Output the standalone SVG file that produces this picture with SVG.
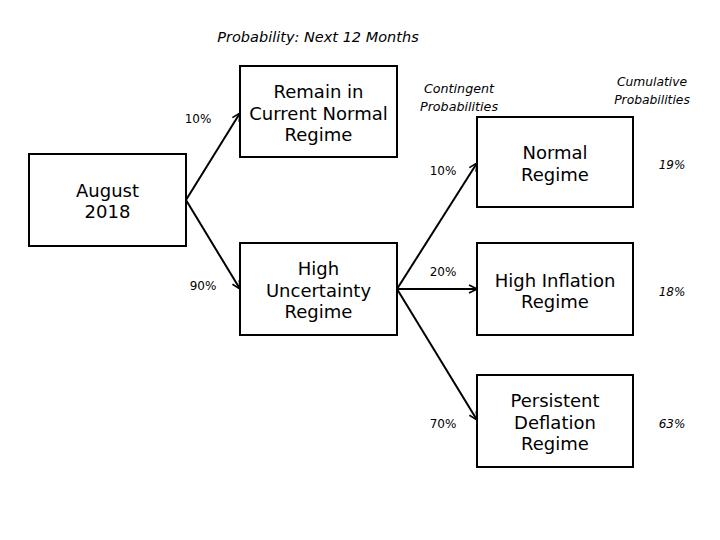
<svg xmlns="http://www.w3.org/2000/svg" width="720" height="540" viewBox="0 0 720 540">
<style>
.box{fill:#fff;stroke:#000;stroke-width:2}
.t{font-family:"DejaVu Sans",Verdana,sans-serif;font-size:18px;text-anchor:middle;fill:#000}
.p{font-family:"DejaVu Sans",Verdana,sans-serif;font-size:12px;text-anchor:middle;fill:#000}
.i{font-family:"DejaVu Sans",Verdana,sans-serif;font-style:italic;text-anchor:middle;fill:#000}
.c{stroke:#000;stroke-width:2;fill:none;marker-end:url(#ah)}
</style>
<defs>
<marker id="ah" viewBox="0 0 10 10" refX="9" refY="5" markerWidth="5" markerHeight="5" markerUnits="strokeWidth" orient="auto">
<path d="M1,1 L9,5 L1,9" fill="none" stroke="#000" stroke-width="1.6"/>
</marker>
</defs>
<rect width="720" height="540" fill="#fff"/>
<text class="i" x="318" y="42" font-size="14.5">Probability: Next 12 Months</text>
<text class="i" x="459" y="93" font-size="12.7">Contingent</text>
<text class="i" x="459" y="111" font-size="12.7">Probabilities</text>
<text class="i" x="652" y="86" font-size="12.3">Cumulative</text>
<text class="i" x="652" y="104" font-size="12.3">Probabilities</text>
<g id="connectors">
<line class="c" x1="186" y1="200" x2="240" y2="113"/>
<line class="c" x1="186" y1="200" x2="240" y2="289"/>
<line class="c" x1="397" y1="289" x2="477" y2="163"/>
<line class="c" x1="397" y1="289" x2="477" y2="289"/>
<line class="c" x1="397" y1="289" x2="477" y2="420"/>
<text class="p" x="198" y="123">10%</text>
<text class="p" x="203" y="290">90%</text>
<text class="p" x="443" y="175">10%</text>
<text class="p" x="443" y="276">20%</text>
<text class="p" x="443" y="428">70%</text>
</g>
<g id="august">
<rect class="box" x="29" y="154" width="157" height="92"/>
<text class="t" x="107.5" y="197">August</text>
<text class="t" x="107.5" y="218">2018</text>
</g>
<g id="remain">
<rect class="box" x="240" y="66" width="157" height="91"/>
<text class="t" x="318.5" y="98">Remain in</text>
<text class="t" x="318.5" y="120">Current Normal</text>
<text class="t" x="318.5" y="141">Regime</text>
</g>
<g id="high-uncertainty">
<rect class="box" x="240" y="243" width="157" height="92"/>
<text class="t" x="318.5" y="275">High</text>
<text class="t" x="318.5" y="297">Uncertainty</text>
<text class="t" x="318.5" y="318">Regime</text>
</g>
<g id="normal">
<rect class="box" x="477" y="117" width="156" height="90"/>
<text class="t" x="555" y="159">Normal</text>
<text class="t" x="555" y="181">Regime</text>
<text class="i" x="672" y="169" font-size="12">19%</text>
</g>
<g id="high-inflation">
<rect class="box" x="477" y="243" width="156" height="92"/>
<text class="t" x="555" y="287">High Inflation</text>
<text class="t" x="555" y="308">Regime</text>
<text class="i" x="672" y="296" font-size="12">18%</text>
</g>
<g id="persistent-deflation">
<rect class="box" x="477" y="375" width="156" height="92"/>
<text class="t" x="555" y="407">Persistent</text>
<text class="t" x="555" y="429">Deflation</text>
<text class="t" x="555" y="450">Regime</text>
<text class="i" x="672" y="428" font-size="12">63%</text>
</g>
</svg>
